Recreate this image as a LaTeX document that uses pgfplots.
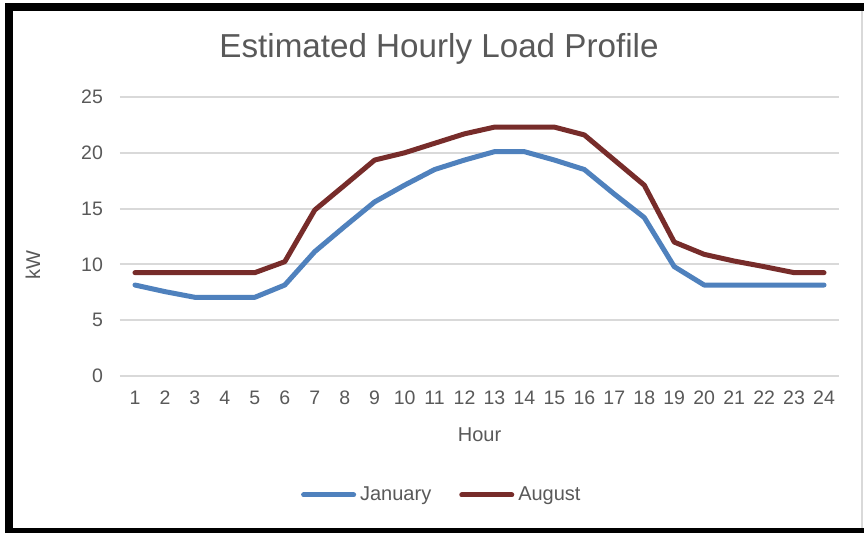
\documentclass[border=0pt]{standalone}
\usepackage{fontspec}
\setmainfont{Liberation Sans}
\usepackage{pgfplots}
\pgfplotsset{compat=1.18}
\definecolor{txt}{HTML}{595959}
\definecolor{gridc}{HTML}{D9D9D9}
\definecolor{jan}{HTML}{4F81BD}
\definecolor{aug}{HTML}{772C2A}
\begin{document}
\begin{tikzpicture}
\path[use as bounding box, fill=white] (0,0) rectangle (432pt,266.5pt);
\fill[black] (2.5pt,261pt) rectangle (432pt,265pt);
\fill[black] (2.5pt,0pt) rectangle (6.5pt,265pt);
\fill[black] (2.5pt,0pt) rectangle (432pt,2.5pt);
\draw[gridc, line width=0.8pt] (431pt,2.5pt) -- (431pt,261pt);
\begin{axis}[
  at={(60pt,78.5pt)}, anchor=south west,
  scale only axis, width=359.5pt, height=139.5pt,
  xmin=0.5, xmax=24.5, ymin=0, ymax=25,
  xtick={1,...,24}, ytick={0,5,...,25},
  axis line style={draw=none},
  major tick length=0pt,
  ymajorgrids, grid style={gridc, line width=1pt},
  font=\fontsize{9.75}{11}\selectfont,
  every tick label/.append style={text=txt},
  /pgf/number format/assume math mode=true,
  xticklabel style={yshift=-4pt},
  yticklabel style={xshift=-5pt},
  every axis title shift=0pt,
  title={Estimated Hourly Load Profile},
  title style={at={(rel axis cs:0.4437,1.172)}, anchor=center, yshift=0pt, text=txt, font=\fontsize{16.6}{18}\selectfont},
  xlabel={Hour},
  xlabel style={at={(rel axis cs:0.5,-0.2115)}, anchor=center, text=txt, font=\fontsize{10}{12}\selectfont},
  ylabel={kW},
  ylabel style={at={(rel axis cs:-0.121,0.398)}, anchor=center, rotate=0, text=txt, font=\fontsize{10}{12}\selectfont},
  legend columns=2,
  legend style={at={(rel axis cs:0.449,-0.4265)}, anchor=center, draw=none, fill=none,
    font=\fontsize{10}{12}\selectfont, text=txt,
    /tikz/every even column/.append style={column sep=12pt}},
  legend image code/.code={\draw[#1] (0pt,0pt) -- (25pt,0pt);},
  every axis plot/.append style={line width=2.5pt, line join=round, line cap=round},
]
\addplot[jan, mark=none] coordinates {
(1,8.15) (2,7.56) (3,7.05) (4,7.05) (5,7.05) (6,8.15) (7,11.14) (8,13.4)
(9,15.6) (10,17.1) (11,18.5) (12,19.35) (13,20.1) (14,20.1) (15,19.35) (16,18.5)
(17,16.3) (18,14.2) (19,9.8) (20,8.15) (21,8.15) (22,8.15) (23,8.15) (24,8.15)
};
\addlegendentry{January}
\addplot[aug, mark=none] coordinates {
(1,9.26) (2,9.26) (3,9.26) (4,9.26) (5,9.26) (6,10.24) (7,14.87) (8,17.1)
(9,19.35) (10,20.0) (11,20.85) (12,21.7) (13,22.3) (14,22.3) (15,22.3) (16,21.6)
(17,19.35) (18,17.1) (19,12.0) (20,10.9) (21,10.3) (22,9.8) (23,9.26) (24,9.26)
};
\addlegendentry{August}
\end{axis}
\end{tikzpicture}
\end{document}
